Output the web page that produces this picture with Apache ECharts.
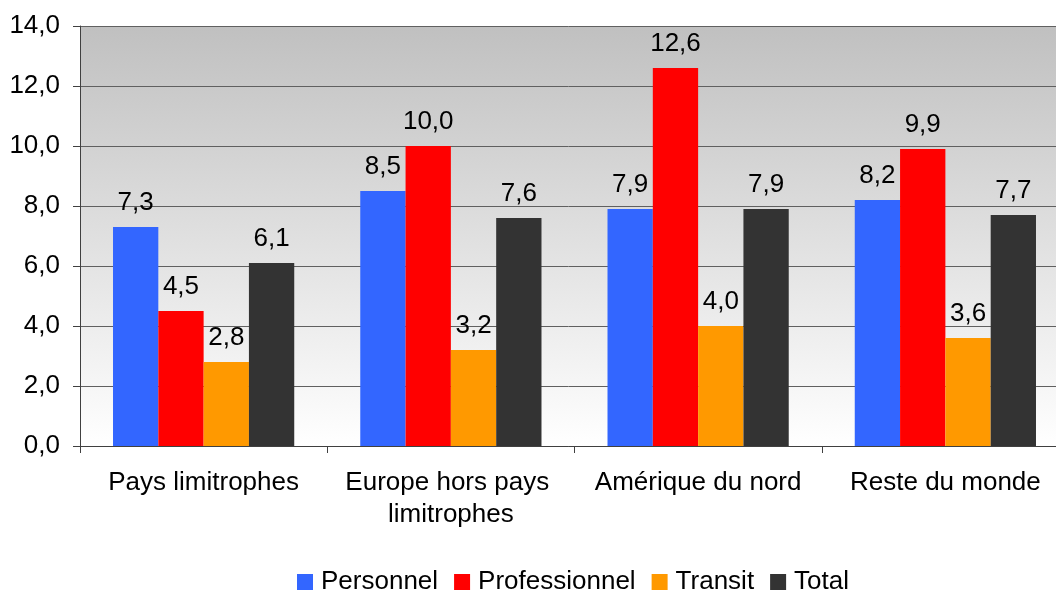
<!DOCTYPE html>
<html>
<head>
<meta charset="utf-8">
<script src="https://cdn.jsdelivr.net/npm/echarts@6/dist/echarts.min.js"></script>
<style>html,body{margin:0;padding:0;background:#fff}#c{width:1056px;height:591px}</style>
</head>
<body>
<div id="c"></div>
<script>
const categories = ["Pays limitrophes", "Europe hors pays limitrophes", "Amérique du nord", "Reste du monde"];
const personnel = [7.3, 8.5, 7.9, 8.2];
const professionnel = [4.5, 10.0, 12.6, 9.9];
const transit = [2.8, 3.2, 4.0, 3.6];
const total = [6.1, 7.6, 7.9, 7.7];
const seriesNames = ["Personnel", "Professionnel", "Transit", "Total"];
const colors = ["#3366ff", "#ff0000", "#ff9900", "#333333"];

const FONT = '"Liberation Sans", Arial, Helvetica, sans-serif';
const fmt = v => Number(v).toFixed(1).replace('.', ',');

const chart = echarts.init(document.getElementById('c'), null, {renderer: 'canvas'});
const mk = (name, data, color) => ({
  name, type: 'bar', data,
  itemStyle: {color},
  barGap: '0%', barCategoryGap: '26.7%',
  label: {show: true, position: 'top', distance: 11, color: '#000', fontFamily: FONT, fontSize: 26,
          formatter: p => fmt(p.value)}
});
chart.setOption({
  animation: false,
  color: colors,
  grid: {left: 80, width: 989, top: 26, height: 420, show: true, borderWidth: 0,
    outerBoundsMode: 'none', containLabel: false,
    backgroundColor: new echarts.graphic.LinearGradient(0, 0, 0, 1, [
      {offset: 0, color: '#c0c0c0'}, {offset: 1, color: '#ffffff'}])},
  legend: {top: 569, left: 297, itemWidth: 16, itemHeight: 16, itemGap: 16, padding: 0,
    icon: 'rect', textStyle: {fontFamily: FONT, fontSize: 26, color: '#000', padding: [0, 0, 0, 3]}},
  xAxis: {type: 'category', data: categories,
    axisLine: {lineStyle: {color: '#404040', width: 1}},
    axisTick: {show: true, length: 7, lineStyle: {color: '#404040'}},
    axisLabel: {margin: 21, fontFamily: FONT, fontSize: 26, color: '#000', lineHeight: 32,
      width: 236, overflow: 'break', interval: 0}},
  yAxis: {type: 'value', min: 0, max: 14, interval: 2,
    axisLine: {show: true, lineStyle: {color: '#404040'}},
    axisTick: {show: true, length: 7, lineStyle: {color: '#404040'}},
    splitLine: {lineStyle: {color: '#606060', width: 1}},
    axisLabel: {margin: 20, fontFamily: FONT, fontSize: 26, color: '#000', formatter: v => fmt(v)}},
  series: [mk(seriesNames[0], personnel, colors[0]), mk(seriesNames[1], professionnel, colors[1]),
           mk(seriesNames[2], transit, colors[2]), mk(seriesNames[3], total, colors[3])]
});
</script>
</body>
</html>
